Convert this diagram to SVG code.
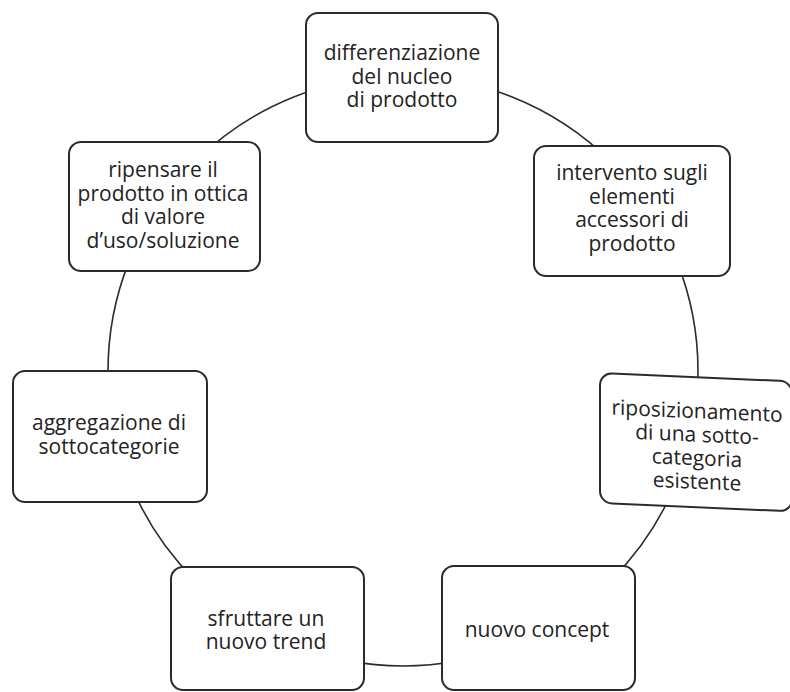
<svg xmlns="http://www.w3.org/2000/svg" width="790" height="692" viewBox="0 0 790 692">
  <style>
    .ring { fill: none; stroke: #2b2b2b; stroke-width: 1.6; }
    .box { fill: #ffffff; stroke: #2b2b2b; stroke-width: 2; }
    .lbl { font-family: "Open Sans", "Noto Sans", sans-serif; font-size: 21px; fill: #232323; text-anchor: middle; }
  </style>
  <rect width="790" height="692" fill="#ffffff"/>

  <!-- the ring that links the boxes -->
  <g id="connectors">
    <circle class="ring" cx="403" cy="371" r="295"/>
  </g>

  <g id="n-differenziazione">
    <rect class="box" x="306" y="13" width="192" height="129" rx="12"/>
    <text class="lbl" x="402" y="60">differenziazione</text>
    <text class="lbl" x="402" y="83.5">del nucleo</text>
    <text class="lbl" x="402" y="107">di prodotto</text>
  </g>

  <g id="n-intervento">
    <rect class="box" x="534" y="146" width="196" height="130" rx="12"/>
    <text class="lbl" x="632" y="180">intervento sugli</text>
    <text class="lbl" x="632" y="203.5">elementi</text>
    <text class="lbl" x="632" y="227">accessori di</text>
    <text class="lbl" x="632" y="250.5">prodotto</text>
  </g>

  <g id="n-riposizionamento" transform="translate(600,373) skewY(2.5)">
    <rect class="box" x="0" y="0" width="192" height="130" rx="12"/>
    <text class="lbl" x="97" y="41">riposizionamento</text>
    <text class="lbl" x="97" y="64.5">di una sotto-</text>
    <text class="lbl" x="97" y="88">categoria</text>
    <text class="lbl" x="97" y="111.5">esistente</text>
  </g>

  <g id="n-nuovo-concept">
    <rect class="box" x="442" y="566" width="193" height="124" rx="12"/>
    <text class="lbl" x="537" y="637">nuovo concept</text>
  </g>

  <g id="n-sfruttare">
    <rect class="box" x="171" y="567" width="193" height="123" rx="12"/>
    <text class="lbl" x="266" y="626">sfruttare un</text>
    <text class="lbl" x="266" y="649">nuovo trend</text>
  </g>

  <g id="n-aggregazione">
    <rect class="box" x="13" y="371" width="194" height="131" rx="12"/>
    <text class="lbl" x="109" y="430">aggregazione di</text>
    <text class="lbl" x="109" y="454">sottocategorie</text>
  </g>

  <g id="n-ripensare">
    <rect class="box" x="69" y="142" width="191" height="129" rx="12"/>
    <text class="lbl" x="163" y="177">ripensare il</text>
    <text class="lbl" x="163" y="200.5">prodotto in ottica</text>
    <text class="lbl" x="163" y="224">di valore</text>
    <text class="lbl" x="163" y="247.5">d’uso/soluzione</text>
  </g>
</svg>
